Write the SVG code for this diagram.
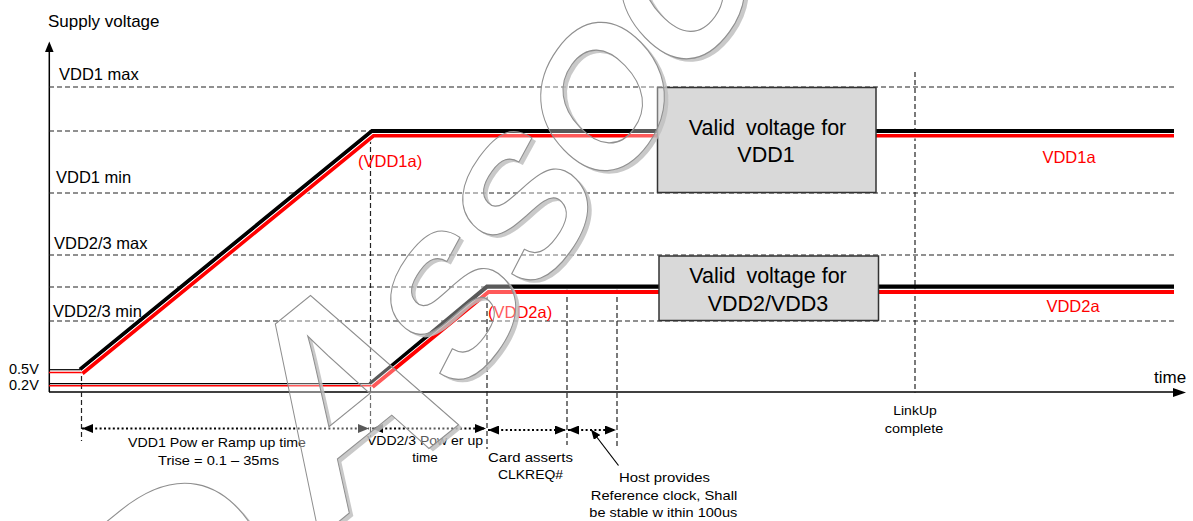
<svg xmlns="http://www.w3.org/2000/svg" xmlns:xlink="http://www.w3.org/1999/xlink" width="1193" height="521" viewBox="0 0 1193 521">
<style>
.t{font-family:"Liberation Sans",Arial,sans-serif;fill:#000}
.lv{font-size:16.5px}
.sm{font-size:13.5px}
.red{fill:#ff0000}
.dash{stroke:#222;stroke-width:1.2;stroke-dasharray:5 3;fill:none}
.dot{stroke:#000;stroke-width:2;stroke-dasharray:2 2.4;fill:none}
.box{fill:#d9d9d9;stroke:#333;stroke-width:1.5}
.bk{stroke:#000;fill:none;stroke-linejoin:miter}
.rd{stroke:#ff0000;fill:none}
.wc{stroke:#fff;fill:none}
.wm{fill:#fff;fill-opacity:0.35;stroke:#8f8f8f;stroke-width:1}
.wms{fill:#c0c0c0;fill-opacity:0.85;stroke:none}
</style>
<defs>
<marker id="ah" viewBox="0 0 11 9" refX="11" refY="4.5" markerWidth="11" markerHeight="9" markerUnits="userSpaceOnUse" orient="auto-start-reverse"><path d="M0,0 L11,4.5 L0,9z" fill="#000"/></marker>
<marker id="ap" viewBox="0 0 10 8" refX="10" refY="4" markerWidth="10" markerHeight="8" markerUnits="userSpaceOnUse" orient="auto"><path d="M0,0 L10,4 L0,8z" fill="#000"/></marker>
<text id="wmtext" transform="translate(459.4,401.8) scale(1,1.2) rotate(-49)" font-family="Liberation Sans, Arial, sans-serif" font-weight="bold"><tspan x="-426" y="-33.2" font-size="280" rotate="15">D </tspan><tspan x="-183" y="-33.2" font-size="250" rotate="15">A</tspan><tspan x="0 110 220 344" y="0" font-size="170">SSOC</tspan></text>
<mask id="wmMask" maskUnits="userSpaceOnUse" x="0" y="0" width="1193" height="521"><rect x="0" y="0" width="1193" height="521" fill="#fff"/><use xlink:href="#wmtext" fill="#000"/></mask>
</defs>
<rect x="0" y="0" width="1193" height="521" fill="#fff"/>

<g id="axes">
<line x1="49.3" y1="51" x2="49.3" y2="392" stroke="#000" stroke-width="1.5"/>
<polygon points="49.3,41.5 45,52 53.6,52" fill="#000"/>
<line x1="49" y1="392" x2="1175" y2="392" stroke="#000" stroke-width="1.5"/>
<polygon points="1186,392.5 1173,388 1173,397" fill="#000"/>
<text class="t" x="48" y="27" font-size="17">Supply voltage</text>
<text class="t" x="1154" y="383" font-size="17">time</text>
</g>

<g id="levels">
<line class="dash" x1="49" y1="87" x2="1174" y2="87"/>
<line class="dash" x1="49" y1="131" x2="1174" y2="131"/>
<line class="dash" x1="49" y1="193" x2="1174" y2="193"/>
<line class="dash" x1="49" y1="255" x2="1174" y2="255"/>
<line class="dash" x1="49" y1="287" x2="1174" y2="287"/>
<line class="dash" x1="49" y1="321" x2="1174" y2="321"/>
<text class="t lv" x="59" y="80">VDD1 max</text>
<text class="t lv" x="56" y="183">VDD1 min</text>
<text class="t lv" x="54" y="249">VDD2/3 max</text>
<text class="t lv" x="53" y="317">VDD2/3 min</text>
<text class="t" x="9" y="374" font-size="14.5">0.5V</text>
<text class="t" x="9" y="390" font-size="14.5">0.2V</text>
</g>

<g id="markers-v">
<line class="dash" x1="81.5" y1="376" x2="81.5" y2="441"/>
<line class="dash" x1="370.5" y1="139" x2="370.5" y2="437"/>
<line class="dash" x1="487" y1="295" x2="487" y2="449"/>
<line class="dash" x1="567" y1="289" x2="567" y2="445"/>
<line class="dash" x1="617" y1="289" x2="617" y2="448"/>
<line class="dash" x1="915" y1="72" x2="915" y2="393"/>
</g>

<g id="vdd1-signal">
<path class="bk" d="M49,369.7 H80" stroke-width="1.2"/>
<path class="rd" d="M49,372.5 H82" stroke-width="1.5"/>
<path class="bk" d="M80,369.5 L372,131 H1174" stroke-width="4"/>
<path class="wc" d="M82.5,373.5 L373.5,135.8 H1174" stroke-width="5.5"/>
<path class="rd" d="M82.5,373.5 L373.5,135.8 H1174" stroke-width="3.6"/>
<text class="t lv red" x="358" y="167">(VDD1a)</text>
<text class="t lv red" x="1069" y="163" text-anchor="middle">VDD1a</text>
</g>

<g id="vdd2-signal">
<path class="bk" d="M49,383.7 H370" stroke-width="1.2"/>
<path class="rd" d="M49,385.8 H372.5" stroke-width="1.4"/>
<path class="bk" d="M370,384 L487,286.7 H1174" stroke-width="4.2"/>
<path class="wc" d="M372.5,387 L488.5,292 H1174" stroke-width="5.5"/>
<path class="rd" d="M372.5,387 L488.5,292 H1174" stroke-width="3.8"/>
<text class="t lv red" x="488" y="318">(VDD2a)</text>
<text class="t lv red" x="1073" y="312" text-anchor="middle">VDD2a</text>
</g>

<g id="box-vdd1">
<rect class="box" x="657.5" y="87.5" width="218.5" height="105"/>
<text class="t" x="767.5" y="135" font-size="21.5" text-anchor="middle">Valid <tspan dx="5">voltage for</tspan></text>
<text class="t" x="766" y="162" font-size="21.5" text-anchor="middle">VDD1</text>
</g>

<g id="box-vdd23">
<rect class="box" x="659" y="256" width="219.5" height="64.5"/>
<text class="t" x="768" y="283" font-size="21.5" text-anchor="middle">Valid <tspan dx="5">voltage for</tspan></text>
<text class="t" x="768" y="311" font-size="21.5" text-anchor="middle">VDD2/VDD3</text>
</g>

<g id="connectors">
<path class="dot" d="M82,428.5 H369" marker-start="url(#ah)" marker-end="url(#ah)"/>
<path class="dot" d="M372,428.5 H486" marker-start="url(#ah)" marker-end="url(#ah)"/>
<path class="dot" d="M488,430 H566" marker-start="url(#ah)" marker-end="url(#ah)"/>
<path class="dot" d="M568,430 H616" marker-start="url(#ah)" marker-end="url(#ah)"/>
<path d="M618.5,465.5 L591,429.5" stroke="#000" stroke-width="1.2" fill="none" marker-end="url(#ap)"/>
</g>

<g id="label-vdd1-ramp">
<text class="t sm" x="217" y="447" text-anchor="middle" textLength="178" lengthAdjust="spacingAndGlyphs">VDD1 Pow er Ramp up time</text>
<text class="t sm" x="218.5" y="465" text-anchor="middle" textLength="121" lengthAdjust="spacingAndGlyphs">Trise = 0.1 – 35ms</text>
</g>
<g id="label-vdd23-ramp">
<text class="t sm" x="425" y="445" text-anchor="middle" textLength="116" lengthAdjust="spacingAndGlyphs">VDD2/3 Pow er up</text>
<text class="t sm" x="425" y="462" text-anchor="middle">time</text>
</g>
<g id="label-clkreq">
<text class="t sm" x="530.5" y="462" text-anchor="middle" textLength="85" lengthAdjust="spacingAndGlyphs">Card asserts</text>
<text class="t sm" x="530.5" y="479" text-anchor="middle" textLength="65" lengthAdjust="spacingAndGlyphs">CLKREQ#</text>
</g>
<g id="label-refclk">
<text class="t sm" x="664.5" y="482" text-anchor="middle" textLength="91" lengthAdjust="spacingAndGlyphs">Host provides</text>
<text class="t sm" x="664" y="500" text-anchor="middle" textLength="146.5" lengthAdjust="spacingAndGlyphs">Reference clock, Shall</text>
<text class="t sm" x="663.3" y="517" text-anchor="middle" textLength="148" lengthAdjust="spacingAndGlyphs">be stable w ithin 100us</text>
</g>
<g id="label-linkup">
<text class="t sm" x="915" y="415" text-anchor="middle" textLength="43.5" lengthAdjust="spacingAndGlyphs">LinkUp</text>
<text class="t sm" x="914" y="433" text-anchor="middle" textLength="58.5" lengthAdjust="spacingAndGlyphs">complete</text>
</g>

<g id="watermark">
<g mask="url(#wmMask)"><use xlink:href="#wmtext" class="wms" transform="translate(4,3)"/></g>
<use xlink:href="#wmtext" class="wm"/>
</g>
</svg>
